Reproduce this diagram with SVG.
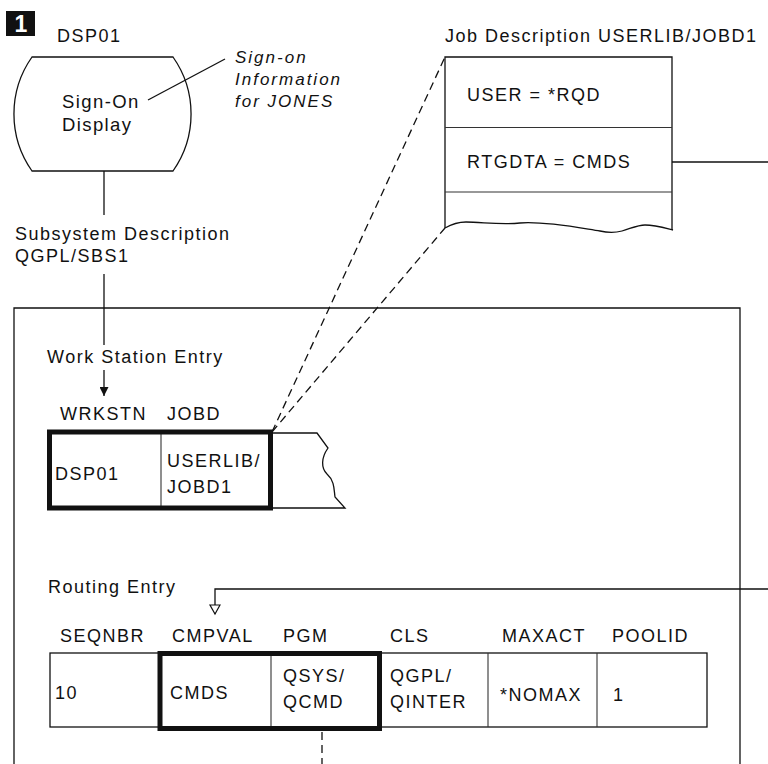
<svg xmlns="http://www.w3.org/2000/svg" width="768" height="764" viewBox="0 0 768 764">
  <style>
    .t { font-family: "Liberation Sans", Arial, Helvetica, sans-serif; font-size: 18px; letter-spacing: 1.5px; fill: #111; }
    .big { font-size: 18.5px; letter-spacing: 1.4px; }
    .it { font-style: italic; font-size: 17px; letter-spacing: 2px; }
    .ln { stroke: #111; stroke-width: 1.3; fill: none; }
    .lg { stroke: #333; stroke-width: 1.1; fill: none; }
    .thick { stroke: #111; stroke-width: 5; fill: none; }
    .dash { stroke-dasharray: 8 5; }
  </style>
  <defs>
    <marker id="arrowFilled" viewBox="0 0 9 9" refX="9" refY="4.5" markerWidth="9" markerHeight="9" markerUnits="userSpaceOnUse" orient="auto">
      <path d="M0,0 L9,4.5 L0,9 z" fill="#111"/>
    </marker>
    <marker id="arrowOpen" viewBox="-1 -1 12 12" refX="9" refY="5" markerWidth="12" markerHeight="12" markerUnits="userSpaceOnUse" orient="auto" overflow="visible">
      <path d="M0,0 L9,5 L0,10 z" fill="#fff" stroke="#111" stroke-width="1.2"/>
    </marker>
  </defs>

  <rect width="768" height="764" fill="#fff"/>

  <!-- step badge -->
  <g id="badge">
    <rect x="6" y="11" width="29" height="25" fill="#111"/>
    <text x="21" y="32" text-anchor="middle" font-family="Liberation Sans, Arial, sans-serif" font-size="23" font-weight="bold" fill="#fff">1</text>
  </g>

  <!-- connectors -->
  <g id="connectors">
    <!-- display to subsystem description to work station entry -->
    <line class="ln" x1="104" y1="171" x2="104" y2="215"/>
    <line class="ln" x1="104" y1="274" x2="104" y2="345"/>
    <line class="ln" x1="104" y1="370" x2="104" y2="396" marker-end="url(#arrowFilled)"/>
    <!-- sign-on information leader -->
    <line class="ln" x1="148" y1="100" x2="225" y2="59"/>
    <!-- expansion of JOBD entry into the job description -->
    <line class="ln dash" x1="272" y1="432" x2="445" y2="57"/>
    <line class="ln dash" x1="272" y1="432" x2="445" y2="228"/>
    <!-- routing data carried to the compare value -->
    <line class="ln" x1="672" y1="162" x2="768" y2="162"/>
    <path class="ln" d="M768,589 H215 V614" marker-end="url(#arrowOpen)"/>
    <!-- program continues below -->
    <line class="ln dash" x1="322" y1="732" x2="322" y2="764"/>
  </g>

  <!-- workstation device -->
  <g id="dsp01">
    <text class="t" x="57" y="42">DSP01</text>
    <path class="ln" d="M32,57 L173,57 A99,99 0 0 1 173,171 L32,171 A99,99 0 0 1 32,57 Z"/>
    <text class="t big" x="62" y="108">Sign-On</text>
    <text class="t big" x="62" y="131">Display</text>
  </g>

  <g id="signon-info">
    <text class="t it" x="235" y="63">Sign-on</text>
    <text class="t it" x="235" y="85">Information</text>
    <text class="t it" x="235" y="107">for JONES</text>
  </g>

  <!-- job description object -->
  <g id="jobd">
    <text class="t" x="445" y="42">Job Description USERLIB/JOBD1</text>
    <path class="ln" d="M445,228 V57 H672 V230"/>
    <line class="lg" x1="445" y1="127.5" x2="672" y2="127.5"/>
    <line class="lg" x1="445" y1="192" x2="672" y2="192"/>
    <path class="ln" d="M445,228 C452,224 458,222 466,222 C482,222 500,225 520,223 C545,221 580,228 600,231 C608,233 615,233 622,231 C632,228 638,225 645,225 C655,225 665,228 673,230"/>
    <text class="t" x="467" y="101">USER = *RQD</text>
    <text class="t" x="467" y="168">RTGDTA = CMDS</text>
  </g>

  <g id="sbsd-label">
    <text class="t" x="15" y="240">Subsystem Description</text>
    <text class="t" x="15" y="262">QGPL/SBS1</text>
  </g>

  <!-- subsystem description frame -->
  <g id="sbsd">
    <path class="ln" d="M14,764 V308 H740 V764"/>
  </g>

  <!-- work station entry -->
  <g id="wrkstn-entry">
    <text class="t" x="47" y="363">Work Station Entry</text>
    <text class="t" x="60" y="420">WRKSTN</text>
    <text class="t" x="167" y="420">JOBD</text>
    <path class="ln" d="M272,433 H317 L328,448 C321,458 321,468 327,474 C335,481 334,491 335,497 L345,508 H272"/>
    <line class="lg" x1="161" y1="434" x2="161" y2="506"/>
    <rect class="thick" x="49.5" y="432" width="221" height="76"/>
    <text class="t" x="55" y="480">DSP01</text>
    <text class="t" x="167" y="467">USERLIB/</text>
    <text class="t" x="167" y="493">JOBD1</text>
  </g>

  <!-- routing entry -->
  <g id="routing-entry">
    <text class="t" x="48" y="593">Routing Entry</text>
    <text class="t" x="60" y="642">SEQNBR</text>
    <text class="t" x="172" y="642">CMPVAL</text>
    <text class="t" x="283" y="642">PGM</text>
    <text class="t" x="390" y="642">CLS</text>
    <text class="t" x="502" y="642">MAXACT</text>
    <text class="t" x="612" y="642">POOLID</text>
    <rect class="ln" x="50" y="653" width="657" height="74"/>
    <line class="lg" x1="271" y1="655" x2="271" y2="726"/>
    <line class="lg" x1="488" y1="653" x2="488" y2="727"/>
    <line class="lg" x1="597" y1="653" x2="597" y2="727"/>
    <rect class="thick" x="160" y="653.5" width="219.5" height="75"/>
    <text class="t" x="55" y="699">10</text>
    <text class="t" x="170" y="699">CMDS</text>
    <text class="t" x="283" y="682">QSYS/</text>
    <text class="t" x="283" y="708">QCMD</text>
    <text class="t" x="390" y="682">QGPL/</text>
    <text class="t" x="390" y="708">QINTER</text>
    <text class="t" x="500" y="701">*NOMAX</text>
    <text class="t" x="613" y="701">1</text>
  </g>
</svg>
